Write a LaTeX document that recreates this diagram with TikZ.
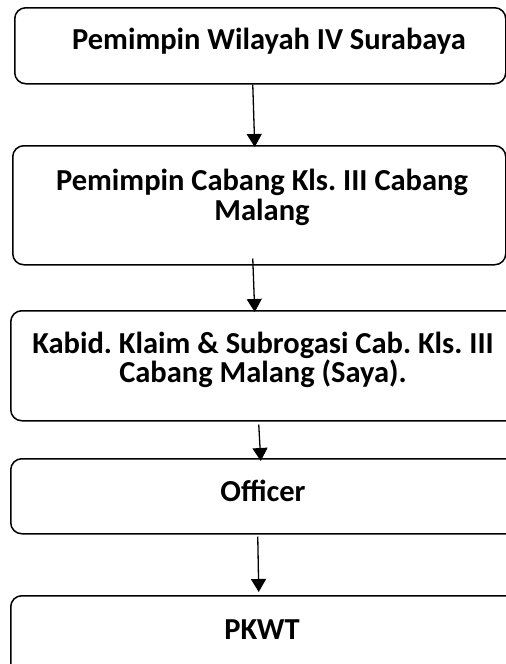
\documentclass[tikz,border=0pt]{standalone}
\usepackage{fontspec}
\setmainfont{Carlito}
\usetikzlibrary{arrows.meta,calc}
\tikzset{
  box/.style={draw=black, line width=1.5pt, rounded corners=11pt, anchor=north west, inner sep=0pt},
  txt/.style={font=\fontsize{30.5}{30}\selectfont\bfseries\frenchspacing, align=center, inner sep=0pt, anchor=base},
  arr/.style={line width=1.3pt, -{Triangle[width=15pt,length=13pt]}}
}
\begin{document}
\begin{tikzpicture}[x=1pt,y=-1pt]
\useasboundingbox (0,0) rectangle (506,664);
\begin{scope}
\clip (0,0) rectangle (506,664);
\node[box, minimum width=491pt, minimum height=76pt]  (b1) at (14,7) {};
\node[box, minimum width=493pt, minimum height=119pt] (b2) at (12,145) {};
\node[box, minimum width=520pt, minimum height=110pt] (b3) at (10,310) {};
\node[box, minimum width=520pt, minimum height=75pt]  (b4) at (10,458) {};
\node[box, minimum width=520pt, minimum height=90pt]  (b5) at (10,595) {};
\end{scope}
\node[txt] (t1) at (269,49) {Pemimpin Wilayah IV Surabaya};
\node[txt] (t2a) at (262,190) {Pemimpin Cabang Kls. III Cabang};
\node[txt] (t2b) at (262,220) {Malang};
\node[txt] (t3a) at (263,353) {Kabid. Klaim \& Subrogasi Cab. Kls. III};
\node[txt] (t3b) at (263,382) {Cabang Malang (Saya).};
\node[txt] (t4) at (263,501) {Officer};
\node[txt] (t5) at (262,639) {PKWT};
\draw[arr] ($(b1.south)+(-7.5,0)$) -- ($(b2.north)+(-4.5,2)$);
\draw[arr] ($(b2.south)+(-6.5,-7)$) -- ($(b3.north)+(-16,2)$);
\draw[arr] ($(b3.south)+(-12,3)$) -- ($(b4.north)+(-10,3)$);
\draw[arr] ($(b4.south)+(-13,2)$) -- ($(b5.north)+(-12,-3)$);
\end{tikzpicture}
\end{document}
